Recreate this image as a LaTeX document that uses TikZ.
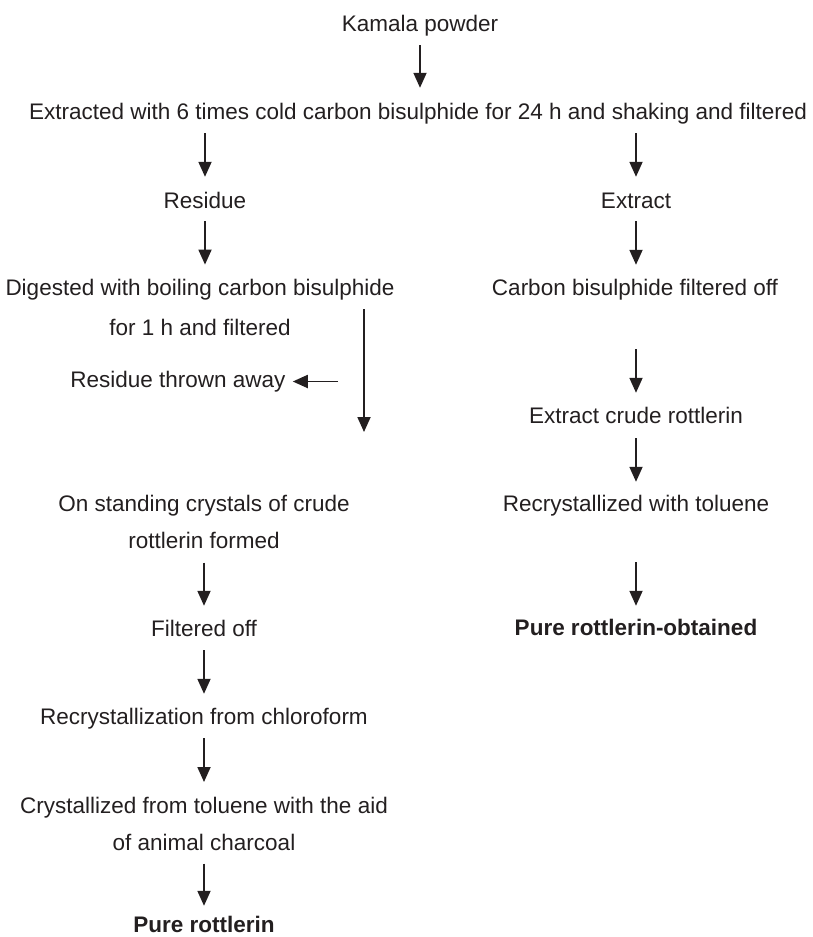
\documentclass[tikz,border=0pt]{standalone}
\usepackage{fontspec}
\setmainfont{Liberation Sans}
\usepackage{tikz}
\usetikzlibrary{arrows.meta,positioning,calc}
\definecolor{inkcolor}{HTML}{231F20}
\tikzset{
  stage/.style={inner sep=0pt, anchor=base, text height=16pt, text depth=5pt, text=inkcolor,
    font=\fontsize{22.5}{37}\selectfont},
  stagetwo/.style={inner sep=0pt, anchor=north, align=center, text=inkcolor,
    font=\fontsize{22.5}{37}\selectfont},
  arrow/.style={-{Triangle[length=15pt, width=13pt]}, line width=1.8pt, draw=inkcolor,
    shorten <=9pt, shorten >=14pt},
}

\begin{document}
\begin{tikzpicture}[x=1pt, y=-1pt]
    \useasboundingbox (0,0) rectangle (813,937);

    % Top of the scheme
    \node[stage] (kamala) at (420,31) {Kamala powder};
    \node[stage] (extracted) at (418,119)
      {Extracted with 6 times cold carbon bisulphide for 24 h and shaking and filtered};

    % Left branch
    \node[stage] (residue) at (205,208) {Residue};
    \node[stagetwo] (digested) at (200,278.6)
      {Digested with boiling carbon bisulphide\\[3pt]for 1 h and filtered};
    \node[stage] (thrown) at (178,387) {Residue thrown away};
    \node[stagetwo] (standing) at (204,494.6)
      {On standing crystals of crude\\rottlerin formed};
    \node[stage] (filtered) at (204,636) {Filtered off};
    \node[stage] (chloroform) at (204,724) {Recrystallization from chloroform};
    \node[stagetwo] (charcoal) at (204,796.6)
      {Crystallized from toluene with the aid\\of animal charcoal};
    \node[stage, font=\fontsize{22.5}{37}\selectfont\bfseries] (pure) at (204,932) {Pure rottlerin};

    % Right branch
    \node[stage] (extract) at (636,208) {Extract};
    \node[stage] (cbsoff) at (635,295) {Carbon bisulphide filtered off};
    \node[stage] (crude) at (636,423) {Extract crude rottlerin};
    \node[stage] (toluene) at (636,511) {Recrystallized with toluene};
    \node[stage, font=\fontsize{22.5}{37}\selectfont\bfseries] (obtained) at (636,635)
      {Pure rottlerin-obtained};

    % Helper points for the side stream
    \coordinate (drop) at (364,309);
    \coordinate (dropend) at (364,432);
    \coordinate (sidearm) at (338,0);

    % Arrows
    \draw[arrow, shorten >=15pt] (kamala.south) -- (kamala.south |- extracted.north);
    \draw[arrow, shorten >=15pt] (residue.north |- extracted.south) -- (residue.north);
    \draw[arrow, shorten >=15pt] (extract.north |- extracted.south) -- (extract.north);
    \draw[arrow, shorten <=8pt] (residue.south) -- (residue.south |- digested.north);
    \draw[arrow, shorten <=8pt] (extract.south) -- (extract.south |- cbsoff.north);

    \draw[arrow, shorten <=0pt, shorten >=0pt] (drop) -- (dropend);
    \draw[arrow, shorten <=0pt, shorten >=7pt] (thrown.east -| sidearm) -- (thrown.east);
    \draw[arrow, shorten <=14pt] (standing.south) -- (filtered.north);
    \draw[arrow] (filtered.south) -- (chloroform.north);
    \draw[arrow, shorten >=14.6pt] (chloroform.south) -- (charcoal.north);
    \draw[arrow, shorten <=13pt, shorten >=10pt] (charcoal.south) -- (pure.north);

    \draw[arrow, shorten <=49pt] (cbsoff.south -| crude.north) -- (crude.north);
    \draw[arrow, shorten <=10pt, shorten >=13pt] (crude.south) -- (toluene.north);
    \draw[arrow, shorten <=46pt, shorten >=13pt] (toluene.south) -- (obtained.north);
\end{tikzpicture}
\end{document}
